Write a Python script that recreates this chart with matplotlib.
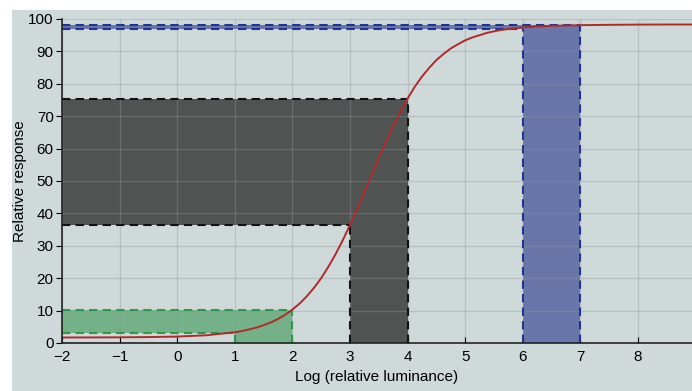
import matplotlib
matplotlib.use("Agg")
import matplotlib.pyplot as plt
from matplotlib.patches import Rectangle

# response curve
log_lum = [-2, -1.5, -1, -0.5, 0, 0.5, 1, 1.125, 1.25, 1.375, 1.5, 1.625, 1.75,
           1.875, 2, 2.125, 2.25, 2.375, 2.5, 2.625, 2.75, 2.875, 3, 3.125,
           3.25, 3.375, 3.5, 3.625, 3.75, 3.875, 4, 4.125, 4.25, 4.375, 4.5,
           4.625, 4.75, 4.875, 5, 5.125, 5.25, 5.375, 5.5, 5.625, 5.75, 6,
           6.25, 6.5, 6.75, 7, 7.5, 8, 8.5, 9]
response = [1.7, 1.72, 1.75, 1.83, 1.98, 2.38, 3.3, 3.7, 4.2, 4.75, 5.5, 6.35,
            7.4, 8.7, 10.3, 12.15, 14.4, 17.0, 20.0, 23.5, 27.4, 31.7, 36.4,
            41.4, 46.6, 51.9, 57.1, 62.2, 67.0, 71.4, 75.4, 79.05, 82.2, 84.9,
            87.3, 89.2, 90.9, 92.2, 93.4, 94.3, 95.0, 95.7, 96.2, 96.6, 96.9,
            97.4, 97.7, 97.9, 98.0, 98.1, 98.2, 98.27, 98.3, 98.3]

# highlighted luminance windows: (x_lo, x_hi, y_lo, y_hi)
green_win = (1, 2, 3.0, 10.3)
gray_win = (3, 4, 36.4, 75.4)
blue_win = (6, 7, 97.0, 98.1)

x_ticks = [-2, -1, 0, 1, 2, 3, 4, 5, 6, 7, 8]
y_ticks = [0, 10, 20, 30, 40, 50, 60, 70, 80, 90, 100]

BG = "#cfd9d9"
plt.rcParams["font.family"] = ["Liberation Sans", "DejaVu Sans"]

fig = plt.figure(figsize=(6.92, 3.91), dpi=100)
fig.patch.set_facecolor("white")
fig.patches.append(Rectangle((12 / 692, 0), 1, 381 / 391, transform=fig.transFigure,
                             facecolor=BG, edgecolor="none", zorder=-10))
ax = fig.add_axes([62 / 692, 48 / 391, 630 / 692, 324 / 391])
ax.set_facecolor(BG)
xmin, xmax = -2, 8.94
ax.set_xlim(xmin, xmax)
ax.set_ylim(0, 100)


def window(win, fill, edge):
    x0, x1, y0, y1 = win
    # horizontal band (response range) and vertical band (luminance range)
    ax.fill_between([xmin, x0], y0, y1, color=fill, lw=0, zorder=1)
    ax.fill_between([x0, x1], 0, y1, color=fill, lw=0, zorder=1)
    kw = dict(color=edge, ls=(0, (4, 2.5)), lw=1.5, zorder=3)
    ax.plot([xmin, x1], [y1, y1], **kw)
    ax.plot([xmin, x0], [y0, y0], **kw)
    ax.plot([x0, x0], [0, y0], **kw)
    ax.plot([x1, x1], [0, y1], **kw)


window(green_win, "#74b088", "#2f9a4a")
window(gray_win, "#4f5453", "#111111")
window(blue_win, "#6876aa", "#1f3590")

ax.plot(log_lum, response, color="#b02a2a", lw=1.4, zorder=4,
        solid_joinstyle="round")

ax.set_xticks(x_ticks)
ax.set_yticks(y_ticks)
ax.set_xticklabels([str(t).replace("-", "\u2212") for t in x_ticks])
ax.grid(True, color="#8f9999", alpha=0.35, lw=1.0, zorder=2)
ax.set_axisbelow(False)
for s in ("top", "right"):
    ax.spines[s].set_visible(False)
for s in ("left", "bottom"):
    ax.spines[s].set_color("#222222")
    ax.spines[s].set_linewidth(1.2)
    ax.spines[s].set_zorder(5)
ax.tick_params(axis="x", direction="in", length=4, labelsize=11, pad=5)
ax.tick_params(axis="y", direction="out", length=4, labelsize=11, pad=2)
ax.set_xlabel("Log (relative luminance)", fontsize=11, labelpad=4)
ax.set_ylabel("Relative response", fontsize=11, labelpad=1)

fig.savefig("out.png", dpi=100, facecolor=fig.get_facecolor())
